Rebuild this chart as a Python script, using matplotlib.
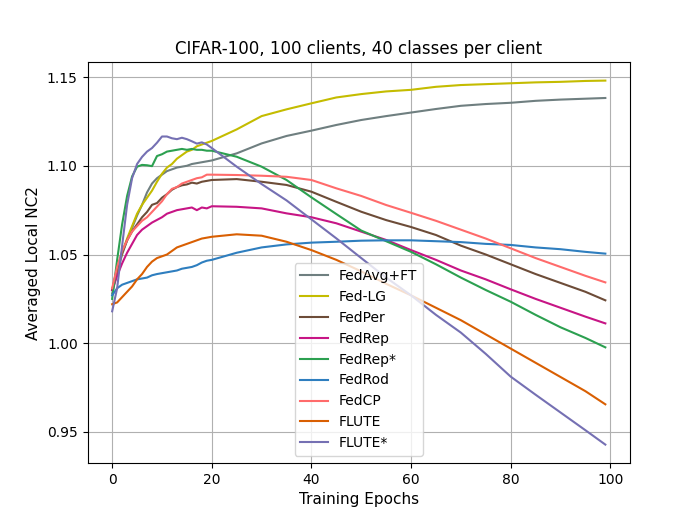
import matplotlib
matplotlib.use('Agg')

import matplotlib.pyplot as plt

epochs = list(range(0, 21)) + [25, 30, 35, 40, 45, 50, 55, 60, 65, 70, 75, 80, 85, 90, 95, 99]

fedavg_ft = [1.028, 1.040, 1.050, 1.058, 1.065, 1.072, 1.078, 1.085, 1.090, 1.093, 1.095,
             1.097, 1.098, 1.099, 1.0995, 1.100, 1.101, 1.1015, 1.102, 1.1025, 1.103,
             1.107, 1.1126, 1.1168, 1.1198, 1.123, 1.1258, 1.128, 1.130,
             1.132, 1.1338, 1.1348, 1.1355, 1.1366, 1.1373, 1.1378, 1.1382]
fed_lg = [1.030, 1.041, 1.051, 1.059, 1.066, 1.073, 1.078, 1.082, 1.086, 1.091, 1.0955,
          1.099, 1.101, 1.104, 1.106, 1.108, 1.109, 1.111, 1.112, 1.113, 1.114,
          1.1205, 1.128, 1.1318, 1.1352, 1.1385, 1.1404, 1.1419, 1.1428,
          1.1445, 1.1455, 1.146, 1.1465, 1.147, 1.1473, 1.1478, 1.148]
fedper = [1.030, 1.042, 1.051, 1.058, 1.063, 1.067, 1.071, 1.074, 1.078, 1.079, 1.082,
          1.084, 1.0865, 1.088, 1.089, 1.0895, 1.0905, 1.090, 1.091, 1.0915, 1.092,
          1.0925, 1.091, 1.0892, 1.0854, 1.0797, 1.0741, 1.0694, 1.0655,
          1.061, 1.055, 1.050, 1.0445, 1.039, 1.034, 1.029, 1.0242]
fedrep = [1.030, 1.038, 1.045, 1.051, 1.056, 1.061, 1.064, 1.066, 1.068, 1.0695, 1.071,
          1.073, 1.074, 1.075, 1.0755, 1.076, 1.0765, 1.075, 1.0765, 1.076, 1.0772,
          1.0769, 1.076, 1.0732, 1.071, 1.0676, 1.0629, 1.0582, 1.0525,
          1.047, 1.041, 1.036, 1.0304, 1.025, 1.020, 1.015, 1.0112]
fedrep_star = [1.025, 1.047, 1.067, 1.083, 1.094, 1.0995, 1.1005, 1.1003, 1.0998, 1.1055, 1.1065,
               1.108, 1.1085, 1.109, 1.1095, 1.109, 1.1095, 1.109, 1.109, 1.1085, 1.1085,
               1.1051, 1.0995, 1.092, 1.0822, 1.0728, 1.0635, 1.0575, 1.0515,
               1.0445, 1.037, 1.030, 1.0234, 1.016, 1.009, 1.003, 0.9977]
fedrod = [1.027, 1.031, 1.033, 1.034, 1.035, 1.036, 1.0365, 1.037, 1.0383, 1.039, 1.0395,
          1.040, 1.0405, 1.041, 1.042, 1.0425, 1.043, 1.044, 1.0455, 1.0465, 1.047,
          1.051, 1.054, 1.0557, 1.0567, 1.0572, 1.0578, 1.058, 1.058,
          1.0575, 1.057, 1.056, 1.0554, 1.054, 1.053, 1.0515, 1.0505]
fedcp = [1.031, 1.043, 1.052, 1.058, 1.063, 1.066, 1.069, 1.071, 1.074, 1.077, 1.080,
         1.084, 1.087, 1.088, 1.090, 1.091, 1.092, 1.093, 1.0935, 1.095, 1.095,
         1.0948, 1.0944, 1.0938, 1.092, 1.0873, 1.083, 1.0779, 1.0735,
         1.069, 1.064, 1.059, 1.0535, 1.048, 1.043, 1.038, 1.0343]
flute = [1.022, 1.023, 1.026, 1.029, 1.032, 1.036, 1.039, 1.043, 1.046, 1.048, 1.049,
         1.050, 1.052, 1.054, 1.055, 1.056, 1.057, 1.058, 1.059, 1.0595, 1.060,
         1.0614, 1.0606, 1.0572, 1.0525, 1.047, 1.0405, 1.0335, 1.027,
         1.020, 1.013, 1.005, 0.997, 0.989, 0.981, 0.973, 0.9656]
flute_star = [1.018, 1.031, 1.055, 1.078, 1.093, 1.101, 1.105, 1.108, 1.110, 1.113, 1.1165,
              1.1165, 1.1155, 1.115, 1.1158, 1.115, 1.1138, 1.1125, 1.1132, 1.112, 1.110,
              1.0995, 1.0897, 1.0805, 1.0698, 1.0591, 1.048, 1.037, 1.027,
              1.016, 1.006, 0.994, 0.9812, 0.971, 0.961, 0.951, 0.9429]

labels = ['FedAvg+FT', 'Fed-LG', 'FedPer', 'FedRep', 'FedRep*', 'FedRod', 'FedCP', 'FLUTE', 'FLUTE*']
series = [fedavg_ft, fed_lg, fedper, fedrep, fedrep_star, fedrod, fedcp, flute, flute_star]
colors = ['#6f7f80', '#c4bc00', '#6d4c38', '#c71585', '#2ca050',
          '#2e7ebf', '#ff6b6b', '#d95f02', '#7570b3']

fig, ax = plt.subplots(figsize=(7, 5.2), dpi=100)

for values, label, color in zip(series, labels, colors):
    ax.plot(epochs, values, color=color, label=label)

ax.set_title('CIFAR-100, 100 clients, 40 classes per client')
ax.set_xlabel('Training Epochs', fontsize=11)
ax.set_ylabel('Averaged Local NC2', fontsize=11)
ax.grid(True)
ax.legend(loc='lower center')

fig.savefig('out.png')
